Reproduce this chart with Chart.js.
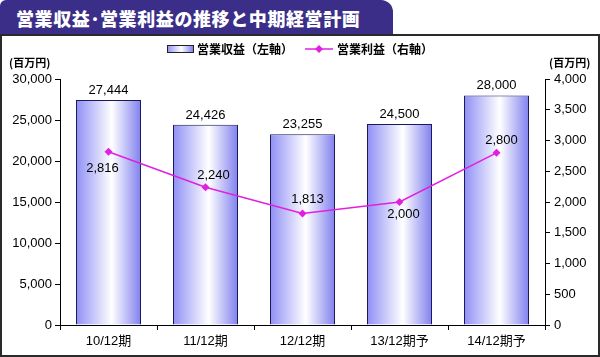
<!DOCTYPE html>
<html><head><meta charset="utf-8">
<script src="https://cdn.jsdelivr.net/npm/chart.js@4/dist/chart.umd.min.js"></script>
<style>
html,body{margin:0;padding:0;background:#fff;}
#wrap{position:relative;width:600px;height:357px;overflow:hidden;}
#tab{position:absolute;left:0;top:0;width:393px;height:35px;background:#3a2e88;border-radius:6px 12px 0 0;}
#tab span{position:absolute;left:16px;top:5px;color:#fff;font:900 18px "Noto Sans CJK JP",sans-serif;letter-spacing:0.6px;white-space:nowrap;}
#box{position:absolute;left:0;top:34px;width:596px;height:319px;border:2px solid #2a2a2a;}
#c{position:absolute;left:0;top:0;}
</style></head>
<body><div id="wrap">
<div id="tab"><span>営業収益･営業利益の推移と中期経営計画</span></div>
<div id="box"></div>
<canvas id="c" width="600" height="357"></canvas>
</div>
<script>
const categories = ['10/12期','11/12期','12/12期','13/12期予','14/12期予'];
const revenue = [27444, 24426, 23255, 24500, 28000];
const profit = [2816, 2240, 1813, 2000, 2800];
const leftTicks = [0,5000,10000,15000,20000,25000,30000];
const rightTicks = [0,500,1000,1500,2000,2500,3000,3500,4000];
const revenueLabel = '営業収益（左軸）';
const profitLabel = '営業利益（右軸）';
const unitLabel = '(百万円)';

// label placement (style only)
const profitLabelOffsets = [[-6,17],[8,-12],[5,-14],[4,12],[5,-12]];

const FONT_NUM = '"Liberation Sans","Noto Sans CJK JP",sans-serif';
const BAR_PCT = 0.67;
const LINE_COLOR = '#e21fe0';

function barGradient(ctx){
  const chart = ctx.chart;
  const xs = chart.scales && chart.scales.x;
  if (!xs || !chart.chartArea || ctx.dataIndex === undefined) return '#9a9af5';
  const cx = xs.getPixelForValue(ctx.dataIndex);
  const w = (xs.width / categories.length) * BAR_PCT;
  const g = chart.ctx.createLinearGradient(cx - w/2, 0, cx + w/2, 0);
  g.addColorStop(0, '#8f8ff6');
  g.addColorStop(0.55, '#ffffff');
  g.addColorStop(1, '#8080ef');
  return g;
}

const labelsPlugin = {
  id: 'labels',
  afterDatasetsDraw(chart){
    const c = chart.ctx;
    c.save();
    c.fillStyle = '#000';
    c.font = '13px ' + FONT_NUM;
    c.textAlign = 'center';
    const barMeta = chart.getDatasetMeta(0);
    barMeta.data.forEach((el,i)=>{
      c.textBaseline = 'bottom';
      c.fillText(revenue[i].toLocaleString('en-US'), el.x, el.y - 3);
    });
    const lineMeta = chart.getDatasetMeta(1);
    lineMeta.data.forEach((el,i)=>{
      c.textBaseline = 'middle';
      const o = profitLabelOffsets[i];
      c.fillText(profit[i].toLocaleString('en-US'), el.x + o[0], el.y + o[1]);
    });
    c.restore();
  },
  afterDraw(chart){
    const c = chart.ctx;
    c.save();
    c.fillStyle = '#000';
    c.font = 'bold 11px "Noto Sans CJK JP",sans-serif';
    c.textBaseline = 'middle';
    c.textAlign = 'left';
    c.fillText(unitLabel, 9, 63);
    c.fillText(unitLabel, 549, 63);
    const ly = 49;
    const g = c.createLinearGradient(167,0,193,0);
    g.addColorStop(0,'#8f8ff6'); g.addColorStop(0.55,'#ffffff'); g.addColorStop(1,'#8080ef');
    c.fillStyle = g;
    c.fillRect(167, ly-3.5, 26, 7);
    c.strokeStyle = '#222'; c.lineWidth = 1;
    c.strokeRect(167.5, ly-3.5, 26, 7);
    c.fillStyle = '#000';
    c.font = 'bold 12px "Noto Sans CJK JP",sans-serif';
    c.fillText(chart.data.datasets[0].label, 197, ly);
    c.strokeStyle = LINE_COLOR; c.lineWidth = 1.5;
    c.beginPath(); c.moveTo(305, ly); c.lineTo(333, ly); c.stroke();
    c.fillStyle = LINE_COLOR;
    c.beginPath(); c.moveTo(319, ly-4); c.lineTo(323, ly); c.lineTo(319, ly+4); c.lineTo(315, ly); c.closePath(); c.fill();
    c.fillStyle = '#000';
    c.fillText(chart.data.datasets[1].label, 337, ly);
    c.restore();
  }
};

new Chart(document.getElementById('c'), {
  data: {
    labels: categories,
    datasets: [
      {type:'bar', label: revenueLabel, data: revenue, yAxisID:'y', order:1,
       backgroundColor: barGradient, borderColor:'#1a1a5a', borderWidth:1,
       barPercentage: BAR_PCT, categoryPercentage: 1},
      {type:'line', label: profitLabel, data: profit, yAxisID:'y1', order:0,
       borderColor: LINE_COLOR, backgroundColor: LINE_COLOR, borderWidth:1.5,
       pointStyle:'rectRot', pointRadius:4, pointBorderWidth:0, tension:0}
    ]
  },
  options: {
    responsive:false, animation:false,
    layout:{padding:{top:79,left:0,right:0,bottom:0}},
    plugins:{legend:{display:false}, tooltip:{enabled:false}},
    scales:{
      x:{offset:true,
         grid:{display:true, drawOnChartArea:false, offset:true, tickLength:5, color:'#000'},
         border:{color:'#000', width:1},
         ticks:{color:'#000', font:{size:13, family:FONT_NUM}, padding:4, maxRotation:0},
         afterFit(s){ s.height = 32; }},
      y:{position:'left', min:0, max:30000,
         afterBuildTicks(s){ s.ticks = leftTicks.map(v=>({value:v})); },
         grid:{drawOnChartArea:false, tickLength:5, color:'#000'},
         border:{color:'#000', width:1},
         ticks:{color:'#000', font:{size:13, family:FONT_NUM}, padding:3,
                callback:v=>v.toLocaleString('en-US')},
         afterFit(s){ s.width = 60; }},
      y1:{position:'right', min:0, max:4000,
         afterBuildTicks(s){ s.ticks = rightTicks.map(v=>({value:v})); },
         grid:{drawOnChartArea:false, tickLength:5, color:'#000'},
         border:{color:'#000', width:1},
         ticks:{color:'#000', font:{size:13, family:FONT_NUM}, padding:4,
                callback:v=>v.toLocaleString('en-US')},
         afterFit(s){ s.width = 55; }}
    }
  },
  plugins:[labelsPlugin]
});
</script>
</body></html>
